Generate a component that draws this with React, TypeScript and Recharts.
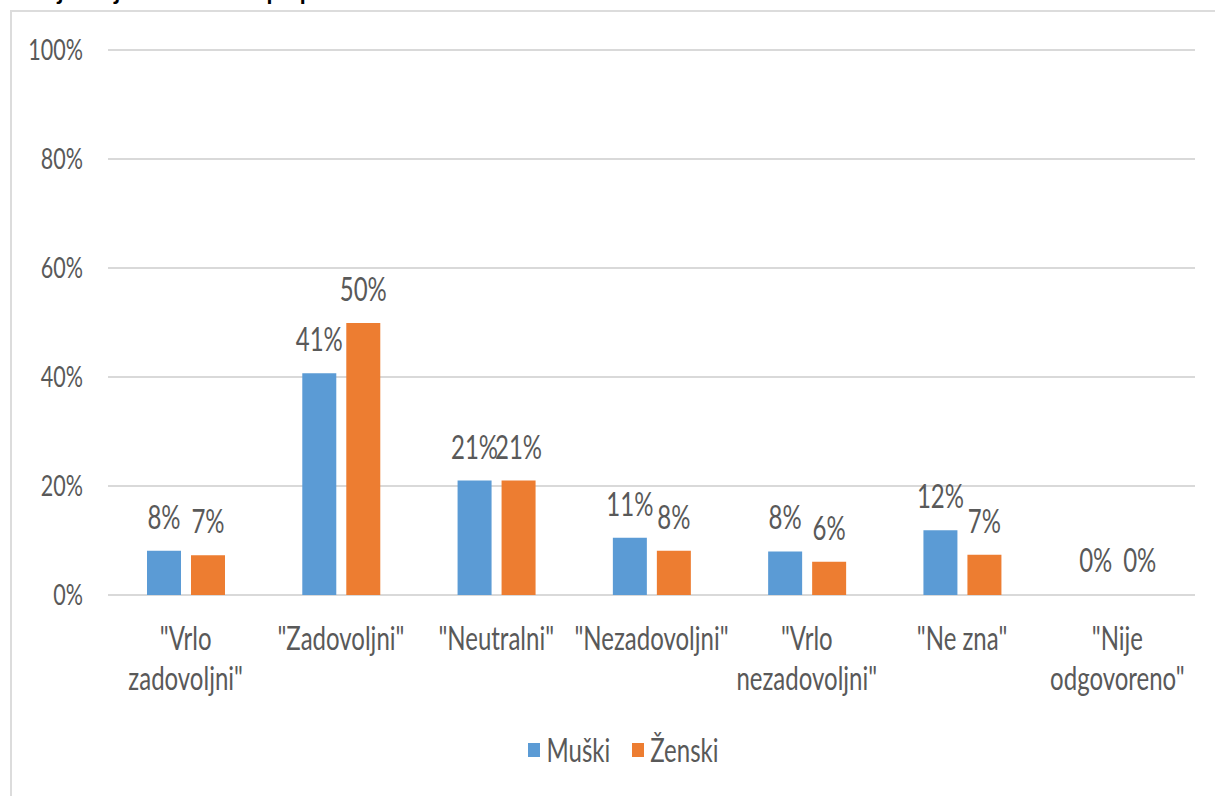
import { BarChart, Bar, XAxis, YAxis, CartesianGrid, Legend, LabelList, Rectangle } from 'recharts';

const CATEGORIES = [
  ['"Vrlo', 'zadovoljni"'],
  ['"Zadovoljni"'],
  ['"Neutralni"'],
  ['"Nezadovoljni"'],
  ['"Vrlo', 'nezadovoljni"'],
  ['"Ne zna"'],
  ['"Nije', 'odgovoreno"'],
];
const MUSKI = [8.1, 40.7, 21, 10.5, 8, 11.9, 0];
const ZENSKI = [7.3, 49.9, 21, 8.1, 6.1, 7.4, 0];
const Y_TICKS = [0, 20, 40, 60, 80, 100];

const BLUE = '#5b9bd5';
const ORANGE = '#ed7d31';
const TEXT = '#595959';
const FONT = 'Lato, "Open Sans", sans-serif';
const SY = 1.35; // source chart is stretched vertically

const data = CATEGORIES.map((c, i) => ({
  name: c.join(' '),
  lines: c,
  muski: MUSKI[i],
  zenski: ZENSKI[i],
}));

function SText({ x, y, children, anchor = 'middle', size = 24, fill = TEXT }: any) {
  return (
    <text
      transform={`translate(${x},${y}) scale(1,${SY})`}
      textAnchor={anchor}
      fontSize={size}
      fontFamily={FONT}
      fill={fill}
    >
      {children}
    </text>
  );
}

function YTick({ x, y, payload }: any) {
  return <SText x={x} y={y + 10} anchor="end" size={21.5}>{payload.value}%</SText>;
}

function XTick({ x, y, payload }: any) {
  const row = data.find(d => d.name === payload.value);
  const lines = row ? row.lines : [payload.value];
  return (
    <g>
      {lines.map((l, i) => (
        <SText key={i} x={x} y={y + 47 + i * 40}>{l}</SText>
      ))}
    </g>
  );
}

function ValueLabel({ x, y, width, value }: any) {
  return <SText x={x + width / 2} y={y - 22}>{Math.round(value)}%</SText>;
}

// zero values keep a 1px rect (for the label) but draw nothing
function BarShape(props: any) {
  if (props.height <= 1.5) return <g />;
  return <Rectangle {...props} />;
}

function LegendContent() {
  const items = [
    { label: 'Muški', color: BLUE },
    { label: 'Ženski', color: ORANGE },
  ];
  return (
    <div style={{ display: 'flex', justifyContent: 'center', gap: 22, fontFamily: FONT, paddingLeft: 32 }}>
      {items.map(it => (
        <div key={it.label} style={{ display: 'flex', alignItems: 'center' }}>
          <span style={{ width: 12, height: 14, background: it.color, display: 'inline-block', marginRight: 6 }} />
          <span style={{ fontSize: 24, color: TEXT, display: 'inline-block', transform: `scaleY(${SY})` }}>{it.label}</span>
        </div>
      ))}
    </div>
  );
}

export default function App() {
  return (
    <div style={{ position: 'fixed', left: 0, top: 0, width: 1215, height: 796, background: '#fff', overflow: 'hidden' }}>
      {/* clipped title from the page above */}
      <div style={{
        position: 'absolute', left: -6, top: -24, fontFamily: FONT, fontWeight: 700,
        fontSize: 24, color: '#000', whiteSpace: 'nowrap',
      }}>
        snabdjevanjem vodom“ – po polu
      </div>
      <div style={{
        position: 'absolute', left: 10, top: 10, width: 1215, height: 800,
        border: '2px solid #dcdcdc', boxSizing: 'border-box',
      }} />
      <div style={{ position: 'absolute', left: 0, top: 0 }}>
        <BarChart
          width={1215}
          height={796}
          data={data}
          margin={{ top: 50, right: 20, bottom: 0, left: 0 }}
          barSize={34}
          barGap={10}
        >
          <CartesianGrid vertical={false} stroke="#d9d9d9" strokeWidth={2} />
          <XAxis
            dataKey="name"
            height={201}
            axisLine={false}
            tickLine={false}
            interval={0}
            tick={<XTick />}
          />
          <YAxis
            width={108}
            domain={[0, 100]}
            ticks={Y_TICKS}
            axisLine={false}
            tickLine={false}
            tickMargin={19}
            tick={<YTick />}
          />
          <Legend
            verticalAlign="middle"
            align="center"
            layout="horizontal"
            wrapperStyle={{ top: 735, left: 0, width: 1215 }}
            content={<LegendContent />}
          />
          <Bar dataKey="muski" name="Muški" fill={BLUE} minPointSize={1} shape={<BarShape />} isAnimationActive={false}>
            <LabelList dataKey="muski" content={<ValueLabel />} />
          </Bar>
          <Bar dataKey="zenski" name="Ženski" fill={ORANGE} minPointSize={1} shape={<BarShape />} isAnimationActive={false}>
            <LabelList dataKey="zenski" content={<ValueLabel />} />
          </Bar>
        </BarChart>
      </div>
    </div>
  );
}
